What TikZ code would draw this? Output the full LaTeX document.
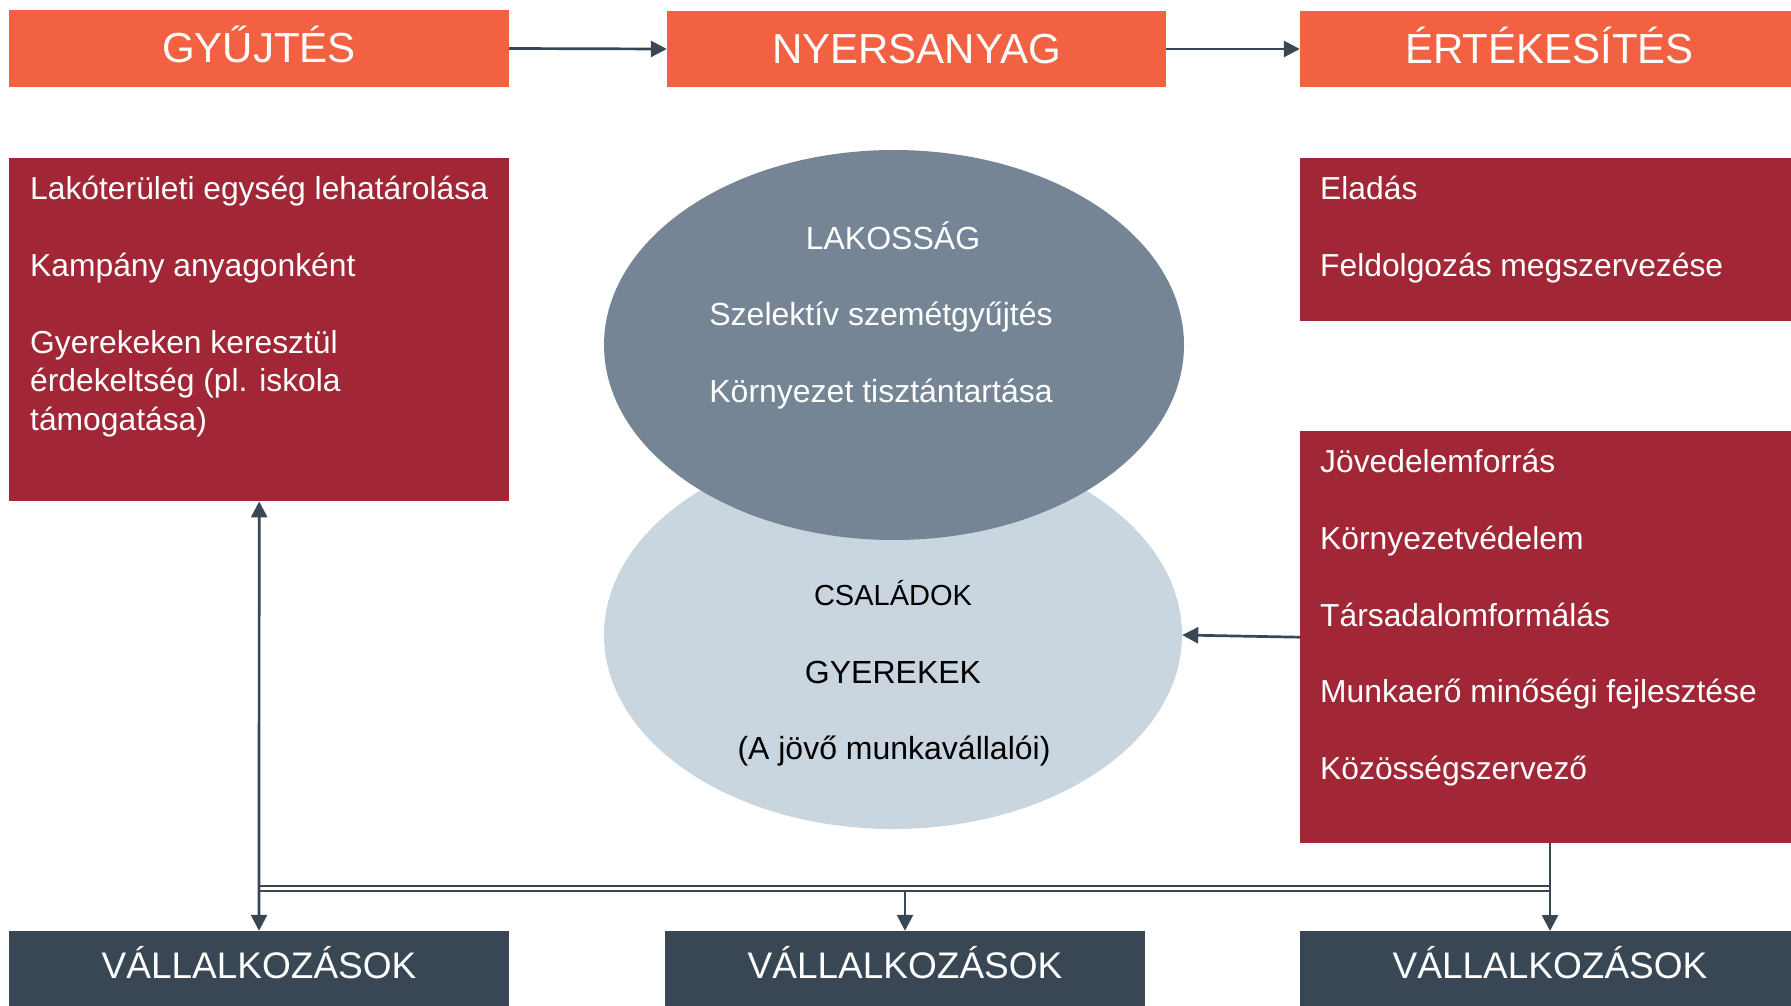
\documentclass[tikz,border=0pt]{standalone}
\usepackage{fontspec}
\setmainfont{Liberation Sans}
\usetikzlibrary{arrows.meta,shapes.geometric}
\definecolor{hdr}{HTML}{F26141}
\definecolor{wine}{HTML}{A12636}
\definecolor{slate}{HTML}{768595}
\definecolor{pale}{HTML}{C9D6DF}
\definecolor{navy}{HTML}{394755}
\begin{document}
\begin{tikzpicture}[x=1pt,y=-1pt,
  hdrbox/.style={fill=hdr, inner sep=0pt, minimum height=76pt},
  hdrtxt/.style={inner sep=0pt, text=white, font=\fontsize{42}{50}\selectfont, text height=30pt, text depth=0pt},
  botbox/.style={fill=navy, inner sep=0pt, minimum height=75pt},
  bottxt/.style={inner sep=0pt, text=white, font=\fontsize{37}{44}\selectfont, text height=26.5pt, text depth=0pt},
  winebox/.style={fill=wine, inner sep=0pt, anchor=north west},
  wtxt/.style={anchor=base west, inner sep=0pt, text=white, font=\fontsize{31.8}{38.8}\selectfont},
  etxt/.style={anchor=base, inner sep=0pt, font=\fontsize{32}{38.8}\selectfont},
  arr/.style={draw=navy, line width=2.7pt, -{Triangle[length=16pt,width=16pt]}},
  arrb/.style={draw=navy, line width=2.7pt, {Triangle[length=16pt,width=16pt]}-{Triangle[length=16pt,width=16pt]}},
  ln/.style={draw=navy, line width=2.2pt}
]
\useasboundingbox (0,0) rectangle (1791,1006);

% headers
\node[hdrbox, minimum width=500pt, minimum height=77pt] (gy) at (259,48.5) {};
\node[hdrbox, minimum width=499pt] (ny) at (916.5,49) {};
\node[hdrbox, minimum width=491pt] (er) at (1545.5,49) {};
\node[hdrtxt] (gyt) at (259,48) {GYŰJTÉS};
\node[hdrtxt] (nyt) at (916.5,49) {NYERSANYAG};
\node[hdrtxt] (ert) at (1549.5,48.5) {ÉRTÉKESÍTÉS};

% wine boxes
\node[winebox, minimum width=500pt, minimum height=343pt] (lb) at (9,158) {};
\node[winebox, minimum width=491pt, minimum height=163pt] (rt) at (1300,158) {};
\node[winebox, minimum width=491pt, minimum height=412pt] (rl) at (1300,431) {};

% left box text
\node[wtxt] (l1) at (30,199.5) {Lakóterületi egység lehatárolása};
\node[wtxt] (l2) at (30,276) {Kampány anyagonként};
\node[wtxt] (l3a) at (30,353) {Gyerekeken keresztül};
\node[wtxt] (l3b) at (30,391.5) {érdekeltség (pl. iskola};
\node[wtxt] (l3c) at (30,430) {támogatása)};

% right top text
\node[wtxt] (r1) at (1320,199.5) {Eladás};
\node[wtxt] (r2) at (1320,276) {Feldolgozás megszervezése};

% right lower text
\node[wtxt] (q1) at (1320,472.5) {Jövedelemforrás};
\node[wtxt] (q2) at (1320,549.5) {Környezetvédelem};
\node[wtxt] (q3) at (1320,626.5) {Társadalomformálás};
\node[wtxt] (q4) at (1320,702.5) {Munkaerő minőségi fejlesztése};
\node[wtxt] (q5) at (1320,779.5) {Közösségszervező};

% ellipses
\node[ellipse, fill=pale, inner sep=0pt, minimum width=578pt, minimum height=388pt] (pe) at (893,635) {};
\node[ellipse, fill=slate, inner sep=0pt, minimum width=580pt, minimum height=390pt] (de) at (894,345) {};

\node[etxt, text=white] (d1) at (893,249.5) {LAKOSSÁG};
\node[etxt, text=white] (d2) at (881,325.5) {Szelektív szemétgyűjtés};
\node[etxt, text=white] (d3) at (881,402.5) {Környezet tisztántartása};

\node[etxt, text=black, font=\fontsize{29}{35}\selectfont] (p1) at (893,605.5) {CSALÁDOK};
\node[etxt, text=black] (p2) at (893,683) {GYEREKEK};
\node[etxt, text=black] (p3) at (894,759.5) {(A jövő munkavállalói)};

% bottom boxes
\node[botbox, minimum width=500pt] (v1) at (259,968.5) {};
\node[botbox, minimum width=480pt] (v2) at (905,968.5) {};
\node[botbox, minimum width=491pt] (v3) at (1545.5,968.5) {};
\node[bottxt] (v1t) at (259,965) {VÁLLALKOZÁSOK};
\node[bottxt] (v2t) at (905,965) {VÁLLALKOZÁSOK};
\node[bottxt] (v3t) at (1550,965) {VÁLLALKOZÁSOK};

% connectors
\draw[arr] (gy.east) -- (ny.west);
\draw[arr] (ny.east) -- (er.west);
\draw[arr] (rl.west) -- (pe.east);
\draw[arrb] (lb.south) -- (v1.north);

\coordinate (ja) at (259,886);
\coordinate (jb) at (1550,886);
\coordinate (jc) at (259,891);
\coordinate (jd) at (1550,891);
\coordinate (jm) at (905,891);
\coordinate (rs) at (1550,843);
\coordinate (rb) at (1550,931);
\draw[ln] (ja) -- (jb);
\draw[ln] (jc) -- (jd);
\draw[arr] (rs) -- (rb);
\draw[arr] (jm) -- (v2.north);
\end{tikzpicture}
\end{document}
